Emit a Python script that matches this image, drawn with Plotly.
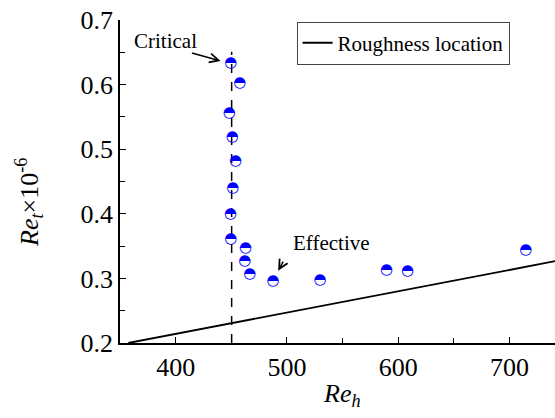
import plotly.graph_objects as go

# Data
re_h = [449.6, 457.7, 448.1, 450.8, 453.9, 451.4, 449.4, 449.6, 462.8, 462.2, 466.7, 487.6, 529.8, 589.4, 608.3, 714.5]
re_t = [0.633, 0.602, 0.556, 0.518, 0.482, 0.440, 0.399, 0.360, 0.346, 0.326, 0.307, 0.295, 0.297, 0.312, 0.311, 0.344]

rough_x = [357.5, 745.0]
rough_y = [0.200, 0.328]

critical_x = [450.3, 450.3]
critical_y = [0.200, 0.651]

x_ticks = [400, 500, 600, 700]
y_ticks = [0.2, 0.3, 0.4, 0.5, 0.6, 0.7]

FONT = "Liberation Serif"
HALF_DISC = "&#9683;"
TIMES = "&#215;"

fig = go.Figure()

fig.add_trace(go.Scatter(
    x=critical_x, y=critical_y, mode="lines",
    line=dict(color="black", width=1.5, dash="dash"),
    showlegend=False, hoverinfo="skip"))

fig.add_trace(go.Scatter(
    x=rough_x, y=rough_y, mode="lines",
    line=dict(color="black", width=1.8),
    name="Roughness location"))

fig.add_trace(go.Scatter(
    x=re_h, y=re_t, mode="text", text=[HALF_DISC] * len(re_h),
    textposition="middle center",
    textfont=dict(family="DejaVu Sans", size=15, color="#0000ff"),
    showlegend=False, hoverinfo="skip"))

fig.update_xaxes(
    range=[350, 740.8], tickvals=x_ticks, ticktext=[str(v) for v in x_ticks],
    showline=True, linecolor="black", linewidth=1.5,
    ticks="inside", ticklen=6, tickwidth=1.2, tickcolor="black",
    showgrid=False, zeroline=False,
    tickfont=dict(family=FONT, size=26, color="black"),
    minor=dict(ticks="inside", dtick=50, tick0=350, ticklen=5, tickcolor="black", tickwidth=1.2))
fig.update_yaxes(
    range=[0.2, 0.7], tickvals=y_ticks, ticktext=[f"{v:.1f}" for v in y_ticks],
    showline=True, linecolor="black", linewidth=1.5,
    ticks="inside", ticklen=6, tickwidth=1.2, tickcolor="black",
    showgrid=False, zeroline=False,
    tickfont=dict(family=FONT, size=26, color="black"),
    minor=dict(ticks="inside", dtick=0.05, tick0=0.2, ticklen=5, tickcolor="black", tickwidth=1.2))

def plot_frac(px, py):
    return (px - 120) / 435, (343 - py) / 323

xt_x, xt_y = plot_frac(342, 395)
yt_x, yt_y = plot_frac(29, 203)

annotations = [
    dict(x=391.0, y=0.6675, xref="x", yref="y", text="Critical", showarrow=False,
         font=dict(family=FONT, size=21, color="black")),
    dict(x=440.4, y=0.6366, ax=411.0, ay=0.6505, xref="x", yref="y", axref="x", ayref="y",
         text=" ", showarrow=True, arrowhead=5, arrowsize=1.2, arrowwidth=1.5, arrowcolor="black"),
    dict(x=540.3, y=0.3553, xref="x", yref="y", text="Effective", showarrow=False,
         font=dict(family=FONT, size=21, color="black")),
    dict(x=492.1, y=0.312, ax=500.2, ay=0.3368, xref="x", yref="y", axref="x", ayref="y",
         text=" ", showarrow=True, arrowhead=5, arrowsize=1.2, arrowwidth=1.5, arrowcolor="black"),
    dict(x=xt_x, y=xt_y, xref="paper", yref="paper", xanchor="center", yanchor="middle",
         text="<i>Re</i><sub><i>h</i></sub>", showarrow=False,
         font=dict(family=FONT, size=26, color="black")),
    dict(x=yt_x, y=yt_y, xref="paper", yref="paper", xanchor="center", yanchor="middle",
         text="<i>Re</i><sub><i>t</i></sub>" + TIMES + "10<sup>-6</sup>", textangle=-90, showarrow=False,
         font=dict(family=FONT, size=26, color="black")),
]

fig.update_layout(
    width=555, height=418,
    margin=dict(l=120, r=0, t=20, b=75, pad=0),
    paper_bgcolor="white", plot_bgcolor="white",
    font=dict(family=FONT, size=21, color="black"),
    legend=dict(x=0.406, y=0.995, xanchor="left", yanchor="top",
                bordercolor="#444", borderwidth=1, bgcolor="white",
                font=dict(family=FONT, size=21, color="black")),
    annotations=annotations,
)

fig.write_html("out.html")
